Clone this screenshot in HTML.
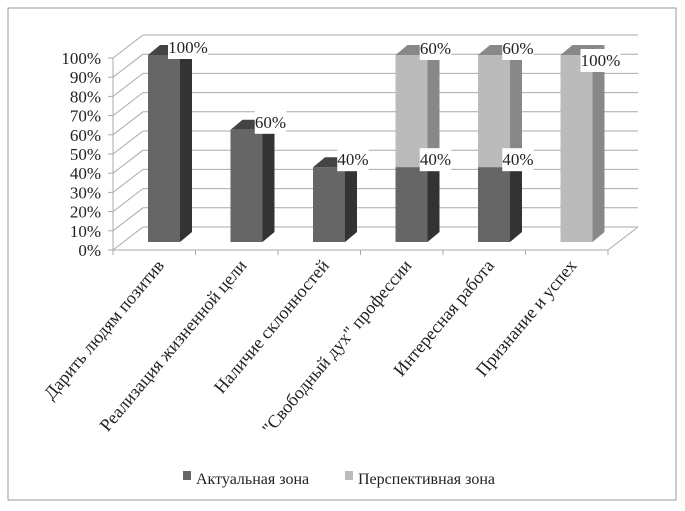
<!DOCTYPE html>
<html><head><meta charset="utf-8"><style>
body{margin:0;background:#fff;}
svg{display:block;font-family:"Liberation Serif","DejaVu Serif",serif;}
</style></head><body>
<svg width="685" height="511" viewBox="0 0 685 511">
<rect x="8" y="8" width="668" height="492" fill="#fff" stroke="#999" stroke-width="1"/>
<g id="grid"></g>
<g id="bars"></g>
<g id="labels"></g>
<g id="cats"></g>
<g>
<g><rect x="183" y="471" width="8" height="9" fill="#666"/><text x="196" y="484" font-size="16" fill="#222">Актуальная зона</text></g>
<g><rect x="345" y="471" width="8" height="9" fill="#bbb"/><text x="358" y="484" font-size="16" fill="#222">Перспективная зона</text></g>
</g>
</svg>
<script>
const categories=["Дарить людям позитив","Реализация жизненной цели","Наличие склонностей","\"Свободный дух\" профессии","Интересная работа","Признание и успех"];
const actual=[100,60,40,40,40,0];
const perspective=[0,0,0,60,60,100];
const ticks=[0,10,20,30,40,50,60,70,80,90,100];
const NS="http://www.w3.org/2000/svg";
function mk(t,a,p){const e=document.createElementNS(NS,t);for(const k in a)e.setAttribute(k,a[k]);p.appendChild(e);return e;}
const X0=113,Y0=250,DX=30,DY=-23,H=192,step=82.5;
function yF(v){return Y0-v/100*H;}
function yB(v){return 242-v/100*187;}
const grid=document.getElementById('grid');
const ln={stroke:"#aaa","stroke-width":1,fill:"none"};
mk('line',Object.assign({x1:X0,y1:yF(0),x2:X0,y2:yF(100)},ln),grid);
ticks.forEach(t=>{
  const y=yF(t);
  const l1=mk('line',Object.assign({x1:X0,y1:y,x2:X0+DX,y2:y+DY},ln),grid);
  
  
  const l2=mk('line',Object.assign({x1:X0+DX,y1:y+DY,x2:X0+DX+6*step,y2:y+DY},ln),grid);
  
  
  mk('line',Object.assign({x1:X0-5,y1:y,x2:X0,y2:y},ln),grid);
  const tx=mk('text',{x:X0-12,y:y+6,"text-anchor":"end","font-size":"17",fill:"#222"},grid);
  tx.textContent=t+"%";
  
  
});
mk('line',Object.assign({x1:X0,y1:Y0,x2:X0+6*step,y2:Y0},ln),grid);
mk('line',Object.assign({x1:X0+6*step,y1:Y0,x2:X0+6*step+DX,y2:Y0+DY},ln),grid);
for(let i=0;i<=6;i++)mk('line',Object.assign({x1:X0+i*step,y1:Y0,x2:X0+i*step,y2:Y0+5},ln),grid);
const bars=document.getElementById('bars'),labels=document.getElementById('labels'),cats=document.getElementById('cats');
function bar(x,v0,v1,front,side,top,name){
  const w=32,d=12,dd=-10,ya=yB(v0),yb=yB(v1);
  const g=mk('g',{},bars);
  
  
  mk('rect',{x:x,y:yb,width:w,height:ya-yb,fill:front},g);
  mk('polygon',{points:`${x+w},${ya} ${x+w+d},${ya+dd} ${x+w+d},${yb+dd} ${x+w},${yb}`,fill:side},g);
  mk('polygon',{points:`${x},${yb} ${x+d},${yb+dd} ${x+w+d},${yb+dd} ${x+w},${yb}`,fill:top},g);
}
function label(cx,y,txt){
  const g=mk('g',{},labels);
  
  
  const w=txt.length*8.5+6;
  mk('rect',{x:cx-w/2,y:y-16,width:w,height:23,fill:"#fff"},g);
  const t=mk('text',{x:cx,y:y+1,"text-anchor":"middle","font-size":"17",fill:"#222"},g);
  t.textContent=txt;
}
categories.forEach((c,i)=>{
  const x=148+i*step;
  if(actual[i]>0)bar(x,0,actual[i],"#666","#333","#444",'bar-actual-'+(i+1));
  if(perspective[i]>0)bar(x,actual[i],actual[i]+perspective[i],"#bbb","#888","#888",'bar-perspective-'+(i+1));
  if(actual[i]>0)label(x+40,yB(actual[i])-3,actual[i]+"%");
  if(perspective[i]>0)label(x+40,yB(actual[i]+perspective[i])+(actual[i]===0?10:-2),perspective[i]+"%");
  const ax=X0+i*step+52,ay=266;
  const t=mk('text',{x:ax,y:ay,"text-anchor":"end","font-size":"18",fill:"#222",transform:`rotate(-50 ${ax} ${ay})`},cats);
  t.textContent=c;
  
  
});
</script>
</body></html>
